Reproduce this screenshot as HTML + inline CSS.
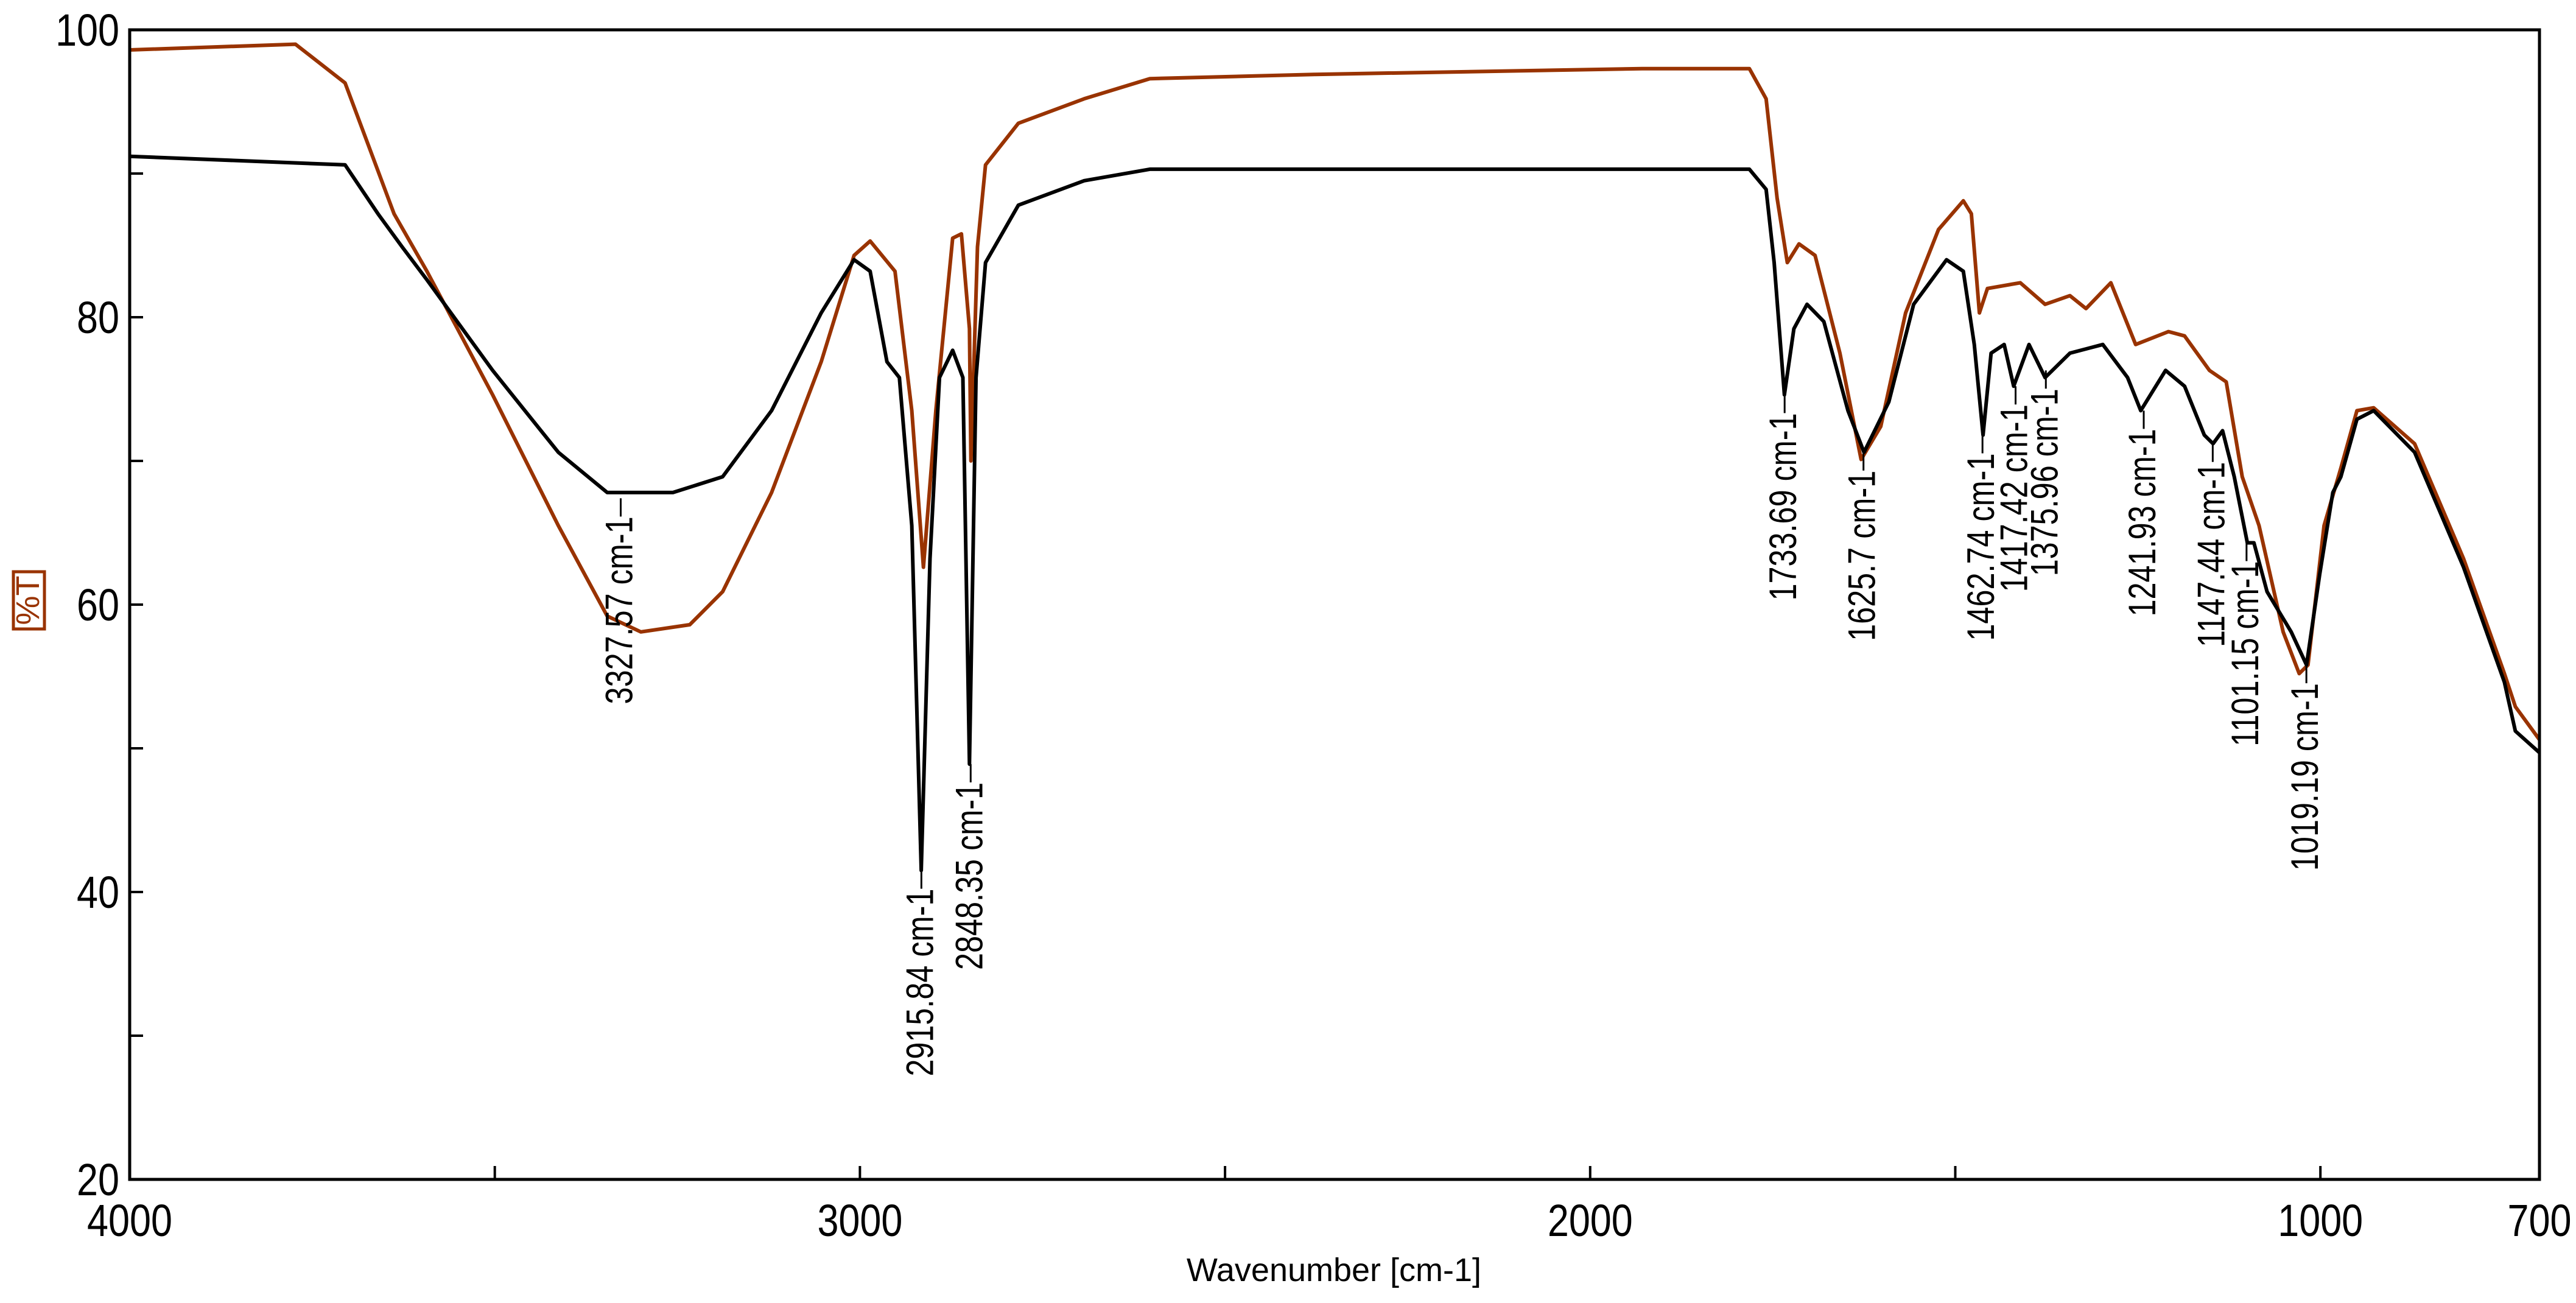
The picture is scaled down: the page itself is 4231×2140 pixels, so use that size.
<!DOCTYPE html>
<html><head><meta charset="utf-8"><style>
html,body{margin:0;padding:0;background:#fff;}
svg{display:block;}
text{font-family:"Liberation Sans Narrow","Liberation Sans",sans-serif;}
</style></head><body>
<svg id="chart" width="4231" height="2140" viewBox="0 0 4231 2140" xmlns="http://www.w3.org/2000/svg">
<rect x="0" y="0" width="4231" height="2140" fill="#fff"/>
<g id="plot"></g>
<rect x="213" y="49" width="3958" height="1888" fill="none" stroke="#000" stroke-width="5"/>
<text x="2191" y="2104" font-size="54" text-anchor="middle">Wavenumber [cm-1]</text>
<rect x="22" y="939" width="51" height="94" fill="none" stroke="#993300" stroke-width="5"/>
<text transform="translate(64,986) rotate(-90)" font-size="54" text-anchor="middle" fill="#993300">%T</text>
</svg>
<script>
const xTicksMajor=[4000,3000,2000,1000,700];
const xTicksMinor=[3500,2500,1500];
const yTicksMajor=[20,40,60,80,100];
const yTicksMinor=[30,50,70,90];
const brownWn=[4000,3773,3705,3638,3593,3503,3413,3346,3300,3233,3188,3121,3053,3008,2986,2952,2929,2913,2896,2873,2861,2850,2848,2839,2828,2783,2693,2603,2378,1929,1782,1759,1744,1730,1714,1692,1658,1629,1602,1568,1523,1489,1478,1467,1456,1411,1377,1343,1321,1287,1253,1208,1186,1152,1129,1107,1084,1051,1029,1017,995,972,950,927,871,804,748,733,700];
const brownT=[98.6,99,96.3,87.2,83.2,74.6,65.5,59.2,58.1,58.6,60.9,67.8,76.9,84.3,85.3,83.2,73.5,62.6,73.5,85.5,85.8,79.2,70,84.9,90.6,93.5,95.2,96.6,96.9,97.3,97.3,95.2,88.3,83.8,85.1,84.3,77.5,70.1,72.4,80.3,86.1,88.1,87.2,80.3,82,82.4,80.9,81.5,80.6,82.4,78.1,79,78.7,76.3,75.5,68.9,65.5,58.1,55.2,55.8,65.5,69.5,73.5,73.7,71.2,63.2,55.2,52.9,50.6];
const blackWn=[4000,3705,3660,3627,3593,3503,3413,3346,3256,3188,3121,3053,3008,2986,2963,2946,2929,2916,2904,2891,2873,2859,2850,2841,2828,2783,2693,2603,1782,1759,1748,1734,1721,1703,1680,1647,1625,1591,1557,1512,1489,1474,1462,1451,1433,1420,1399,1377,1343,1298,1264,1246,1212,1186,1159,1147,1134,1118,1100,1091,1073,1040,1019,1001,983,972,950,927,871,804,748,733,700];
const blackT=[91.2,90.6,87.2,84.9,82.6,76.3,70.6,67.8,67.8,68.9,73.5,80.3,84,83.2,76.9,75.8,65.5,41.5,63.2,75.8,77.7,75.8,48.9,75.8,83.8,87.8,89.5,90.3,90.3,88.9,83.8,74.6,79.2,80.9,79.7,73.5,70.6,74.1,80.9,84,83.2,78.1,71.8,77.5,78.1,75.2,78.1,75.8,77.5,78.1,75.8,73.5,76.3,75.2,71.8,71.2,72.1,68.9,64.3,64.3,60.9,58.1,55.8,62.1,67.8,68.9,72.9,73.5,70.6,62.6,54.6,51.2,49.7];
const peakLabels=["3327.57 cm-1","2915.84 cm-1","2848.35 cm-1","1733.69 cm-1","1625.7 cm-1","1462.74 cm-1","1417.42 cm-1","1375.96 cm-1","1241.93 cm-1","1147.44 cm-1","1101.15 cm-1","1019.19 cm-1"];
const peakWn=[3327.57,2915.84,2848.35,1733.69,1625.7,1462.74,1417.42,1375.96,1241.93,1147.44,1101.15,1019.19];
const peakT=[67.4,41.5,48.9,74.6,70.6,71.8,75.2,76.3,73.5,71.2,64.3,55.8];

const L=213,R=4171,T=49,B=1937;
const NS="http://www.w3.org/2000/svg";
const xs=w=>L+(4000-w)/3300*(R-L);
const ys=t=>T+(100-t)/80*(B-T);
const g=document.getElementById('plot');
function mk(tag,attrs){const e=document.createElementNS(NS,tag);for(const k in attrs)e.setAttribute(k,attrs[k]);return e;}

xTicksMajor.concat(xTicksMinor).forEach(v=>{
  const t=mk('line',{x1:xs(v),x2:xs(v),y1:B,y2:B-22,stroke:'#000','stroke-width':4});
  
  
  g.appendChild(t);
});
xTicksMajor.forEach(v=>{
  const t=mk('text',{transform:`translate(${xs(v)},2030) scale(0.85,1)`,'font-size':74,'text-anchor':'middle'});
  t.textContent=v;
  
  
  g.appendChild(t);
});
yTicksMajor.concat(yTicksMinor).forEach(v=>{
  const t=mk('line',{x1:L,x2:L+22,y1:ys(v),y2:ys(v),stroke:'#000','stroke-width':4});
  
  
  g.appendChild(t);
});
yTicksMajor.forEach(v=>{
  const t=mk('text',{transform:`translate(196,${ys(v)+26}) scale(0.85,1)`,'font-size':74,'text-anchor':'end'});
  t.textContent=v;
  
  
  g.appendChild(t);
});
function series(wn,tv,color,name){
  const pts=wn.map((w,i)=>xs(w).toFixed(1)+','+ys(tv[i]).toFixed(1)).join(' ');
  const p=mk('polyline',{points:pts,fill:'none',stroke:color,'stroke-width':6,'stroke-linejoin':'round'});
  
  
  g.appendChild(p);
}
series(brownWn,brownT,'#993300','series-brown');
series(blackWn,blackT,'#000','series-black');
peakLabels.forEach((lab,i)=>{
  const x=xs(peakWn[i]),y=ys(peakT[i]);
  const ln=mk('line',{x1:x,x2:x,y1:y,y2:y+30,stroke:'#000','stroke-width':3});
  
  
  g.appendChild(ln);
  const t=mk('text',{transform:`translate(${x+19},${y+30}) rotate(-90) scale(0.9,1.12)`,'font-size':56,'text-anchor':'end'});
  t.textContent=lab;
  
  
  g.appendChild(t);
});
</script>
</body></html>
